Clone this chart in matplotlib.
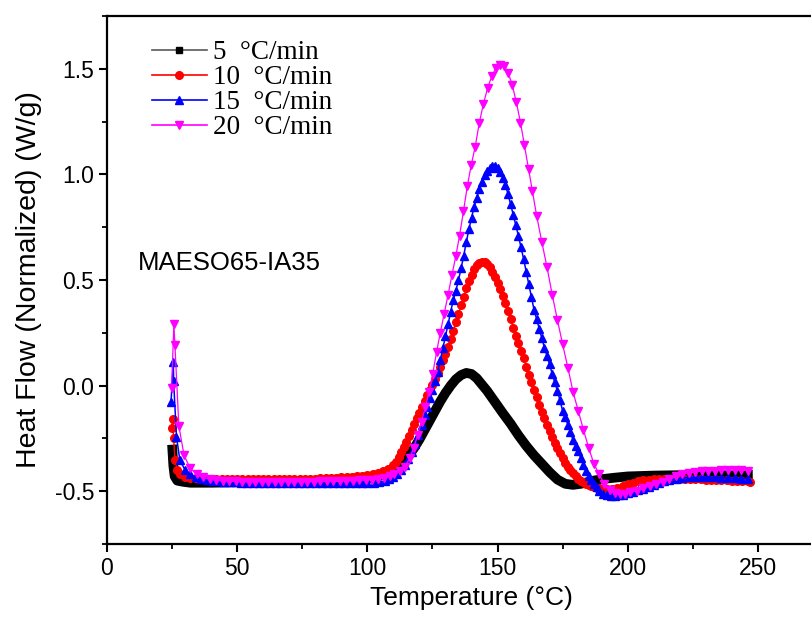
import matplotlib
matplotlib.use('Agg')
import matplotlib.pyplot as plt
from matplotlib.ticker import MultipleLocator

plt.rcParams['axes.unicode_minus'] = False

# DSC curves of MAESO65-IA35 at four heating rates
# temperature (°C) and normalized heat flow (W/g)
# (ten values per line so x and y stay paired)

T_5 = [25, 25.5, 26, 27, 29, 32, 36, 40, 50, 60,
       70, 80, 90, 95, 100, 104, 107, 110, 112, 114,
       116, 118, 120, 122, 124, 126, 128, 130, 132, 134,
       136, 138, 140, 142, 144, 146, 148, 150, 152, 155,
       158, 161, 164, 167, 170, 173, 176, 179, 182, 186,
       190, 195, 200, 210, 220, 230, 240, 248]
hf_5 = [-0.28, -0.38, -0.43, -0.45, -0.455, -0.46, -0.46, -0.46, -0.458, -0.456,
        -0.455, -0.454, -0.45, -0.447, -0.44, -0.43, -0.42, -0.4, -0.385, -0.36,
        -0.33, -0.295, -0.255, -0.21, -0.165, -0.12, -0.075, -0.035, 0.0, 0.03,
        0.05, 0.06, 0.055, 0.035, 0.005, -0.025, -0.06, -0.095, -0.13, -0.18,
        -0.235, -0.285, -0.33, -0.37, -0.41, -0.445, -0.465, -0.47, -0.465, -0.452,
        -0.443, -0.436, -0.43, -0.426, -0.424, -0.423, -0.423, -0.422]

T_10 = [24.8, 25.2, 25.6, 26.1, 27, 28, 30, 32, 34, 36,
        38, 40, 42, 44, 46, 48, 50, 52, 54, 56,
        58, 60, 62, 64, 66, 68, 70, 72, 74, 76,
        78, 80, 82, 84, 86, 88, 90, 92, 94, 96,
        98, 100, 102, 104, 106, 108, 110, 111, 112, 113,
        114, 115, 116, 117, 118, 119, 120, 121, 122, 123,
        124, 125, 126, 127, 128, 129, 130, 131, 132, 133,
        134, 135, 136, 137, 138, 139, 140, 141, 142, 143,
        144, 145, 146, 147, 148, 149, 150, 151, 152, 153,
        154, 155, 156, 157, 158, 159, 160, 161, 162, 163,
        164, 165, 166, 167, 168, 169, 170, 171, 172, 173,
        174, 175, 176, 177, 178, 179, 180, 181, 182, 183,
        184, 185, 186, 187, 188, 189, 190, 192, 194, 196,
        198, 200, 202, 204, 206, 208, 210, 212, 214, 216,
        218, 220, 222, 224, 226, 228, 230, 232, 234, 236,
        238, 240, 242, 244, 246, 247]
hf_10 = [-0.2, -0.16, -0.25, -0.35, -0.4, -0.42, -0.432, -0.436, -0.438, -0.439,
         -0.44, -0.44, -0.44, -0.44, -0.44, -0.44, -0.44, -0.44, -0.44, -0.44,
         -0.44, -0.44, -0.44, -0.44, -0.44, -0.44, -0.44, -0.44, -0.44, -0.44,
         -0.44, -0.44, -0.439, -0.438, -0.437, -0.436, -0.435, -0.434, -0.432, -0.43,
         -0.428, -0.425, -0.42, -0.414, -0.406, -0.395, -0.375, -0.36, -0.34, -0.315,
         -0.29, -0.265, -0.24, -0.21, -0.18, -0.155, -0.13, -0.1, -0.075, -0.045,
         -0.02, 0.005, 0.03, 0.06, 0.09, 0.12, 0.15, 0.185, 0.22, 0.26,
         0.3, 0.34, 0.38, 0.42, 0.46, 0.495, 0.525, 0.55, 0.57, 0.58,
         0.585, 0.585, 0.575, 0.56, 0.54, 0.515, 0.485, 0.455, 0.425, 0.39,
         0.355, 0.315, 0.275, 0.235, 0.2, 0.165, 0.13, 0.09, 0.05, 0.015,
         -0.02, -0.055, -0.09, -0.125, -0.155, -0.185, -0.215, -0.245, -0.27, -0.295,
         -0.32, -0.345, -0.365, -0.385, -0.4, -0.415, -0.428, -0.44, -0.45, -0.458,
         -0.465, -0.47, -0.475, -0.479, -0.483, -0.486, -0.488, -0.49, -0.488, -0.483,
         -0.476, -0.468, -0.46, -0.454, -0.449, -0.445, -0.443, -0.441, -0.44, -0.44,
         -0.44, -0.441, -0.442, -0.442, -0.443, -0.444, -0.445, -0.446, -0.447, -0.448,
         -0.449, -0.45, -0.451, -0.452, -0.453, -0.455]

T_15 = [24.6, 25.5, 25.6, 26.7, 28, 30, 32, 34, 36.2, 38.4,
        40.6, 42.8, 45, 47.2, 49.4, 51.6, 53.8, 56, 58.2, 60.4,
        62.6, 64.8, 67, 69.2, 71.4, 73.6, 75.8, 78, 80.2, 82.4,
        84.6, 86.8, 89, 91.2, 93.4, 95.6, 97.8, 100, 102.4, 104.6,
        106.6, 108.4, 110, 111.5, 113, 114.4, 115.7, 117, 118.3, 119.5,
        120.8, 122, 123, 124, 125, 126, 127, 128, 129, 130,
        131, 132, 133, 134, 135, 136, 137, 138, 139, 140,
        141, 142, 143, 144, 145, 146, 147, 148, 149, 150,
        151, 152, 153, 154, 155, 156, 157, 158, 159, 160,
        161, 162, 163, 164, 165, 166, 167, 168, 169, 170,
        171, 172, 173, 174, 175, 176, 177, 178, 179, 180,
        181, 182, 183, 184, 185, 186, 187, 188, 189, 190.5,
        192, 193.5, 195, 196.5, 198, 200, 202, 204, 206, 208,
        210, 212, 214, 216, 218.5, 221, 223.5, 226, 228.5, 231,
        233.5, 236, 238.5, 241, 243.5, 246]
hf_15 = [-0.076, 0.11, 0.02, -0.243, -0.353, -0.4, -0.42, -0.432, -0.44, -0.446,
         -0.45, -0.453, -0.455, -0.457, -0.458, -0.459, -0.46, -0.46, -0.46, -0.46,
         -0.46, -0.46, -0.46, -0.46, -0.46, -0.46, -0.46, -0.46, -0.46, -0.46,
         -0.46, -0.46, -0.46, -0.46, -0.46, -0.46, -0.46, -0.46, -0.459, -0.457,
         -0.452, -0.444, -0.432, -0.418, -0.4, -0.377, -0.348, -0.314, -0.275, -0.235,
         -0.188, -0.14, -0.1, -0.06, -0.02, 0.02, 0.065, 0.12, 0.177, 0.235,
         0.29, 0.35, 0.405, 0.45, 0.5, 0.555, 0.615, 0.68, 0.74, 0.795,
         0.845, 0.89, 0.93, 0.965, 0.995, 1.015, 1.03, 1.038, 1.04, 1.032,
         1.012, 0.985, 0.95, 0.908, 0.86, 0.81, 0.76, 0.71, 0.655, 0.6,
         0.54, 0.48, 0.42, 0.36, 0.315, 0.27, 0.225, 0.18, 0.14, 0.1,
         0.055, 0.015, -0.025, -0.07, -0.12, -0.15, -0.185, -0.22, -0.258, -0.285,
         -0.31, -0.345, -0.378, -0.405, -0.428, -0.448, -0.465, -0.482, -0.5, -0.512,
         -0.518, -0.521, -0.522, -0.52, -0.517, -0.51, -0.502, -0.495, -0.488, -0.479,
         -0.47, -0.461, -0.454, -0.447, -0.441, -0.437, -0.434, -0.433, -0.433, -0.433,
         -0.434, -0.436, -0.438, -0.439, -0.44, -0.441]

T_20 = [24.8, 25.7, 26.1, 27.6, 29.6, 31.9, 34.4, 36.9, 39.4, 41.9,
        44.4, 46.9, 49.4, 51.9, 54.4, 56.9, 59.4, 61.9, 64.4, 66.9,
        69.4, 71.9, 74.4, 76.9, 79.4, 81.9, 84.4, 86.9, 89.4, 91.9,
        94.4, 96.9, 99.4, 101.9, 104.2, 106.4, 108.6, 110.4, 112.4, 114.4,
        116.2, 117.8, 119.3, 120.8, 122.3, 123.7, 125.1, 126.6, 128, 129.5,
        131, 132.5, 134, 135.4, 136.9, 138.4, 139.9, 141.4, 143, 144.6,
        146.2, 147.8, 149.4, 151, 152.6, 154.1, 155.6, 157.2, 158.8, 160.3,
        161.9, 163.4, 165, 167, 169, 171, 173, 175, 177, 179,
        181, 183, 185, 187, 189, 191, 193, 195, 197, 199,
        201, 203.5, 206, 208.5, 211, 213.5, 216, 218.5, 221, 223.5,
        226, 228.5, 231, 233.5, 236, 238.5, 241, 243.5, 246]
hf_20 = [-0.01, 0.29, 0.19, -0.19, -0.33, -0.39, -0.42, -0.435, -0.443, -0.448,
         -0.451, -0.453, -0.454, -0.455, -0.455, -0.455, -0.455, -0.455, -0.455, -0.455,
         -0.455, -0.455, -0.455, -0.455, -0.455, -0.454, -0.454, -0.453, -0.452, -0.451,
         -0.45, -0.449, -0.447, -0.445, -0.442, -0.437, -0.43, -0.42, -0.403, -0.384,
         -0.345, -0.295, -0.235, -0.17, -0.1, -0.03, 0.055, 0.16, 0.25, 0.34,
         0.43, 0.525, 0.615, 0.71, 0.825, 0.945, 1.045, 1.13, 1.245, 1.335,
         1.41, 1.465, 1.505, 1.518, 1.513, 1.48, 1.425, 1.343, 1.245, 1.14,
         1.025, 0.92, 0.805, 0.68, 0.56, 0.43, 0.31, 0.195, 0.085, -0.03,
         -0.12, -0.21, -0.295, -0.37, -0.42, -0.465, -0.493, -0.508, -0.513, -0.512,
         -0.506, -0.497, -0.486, -0.476, -0.467, -0.455, -0.442, -0.43, -0.42, -0.413,
         -0.408, -0.405, -0.403, -0.402, -0.401, -0.401, -0.401, -0.401, -0.402]

labels = ['5  °C/min', '10  °C/min', '15  °C/min', '20  °C/min']
sample_name = 'MAESO65-IA35'

sans = ['Liberation Sans', 'DejaVu Sans']
serif = ['Liberation Serif', 'DejaVu Serif']

fig = plt.figure(figsize=(8.11, 6.24), dpi=100)
ax = fig.add_axes([0.1319, 0.1282, 0.899, 0.8462])

# 5 °C/min is so dense it reads as a thick band
ax.plot(T_5, hf_5, color='black', lw=7, solid_joinstyle='round',
        solid_capstyle='butt')
ax.plot(T_10, hf_10, color='red', lw=1, marker='o', ms=5.5, mec='red')
ax.plot(T_15, hf_15, color='blue', lw=1.1, marker='^', ms=5.5, mec='blue')
ax.plot(T_20, hf_20, color='magenta', lw=0.9, marker='v', ms=6, mec='magenta')

# legend proxies
h5, = ax.plot([], [], color='0.35', lw=1.2, marker='s', ms=5, mfc='black', mec='black')
h10, = ax.plot([], [], color='red', lw=1.2, marker='o', ms=5.5)
h15, = ax.plot([], [], color='blue', lw=1.2, marker='^', ms=5.5)
h20, = ax.plot([], [], color='magenta', lw=1.2, marker='v', ms=5.5)
ax.legend([h5, h10, h15, h20], labels, loc='upper left',
          bbox_to_anchor=(0.05, 0.969), frameon=False,
          prop={'family': serif, 'size': 19.5}, handlelength=2.05,
          handletextpad=0.22, labelspacing=0.0, borderaxespad=0, borderpad=0.3)

ax.text(11.9, 0.58, sample_name, fontsize=18.5, family=sans, va='center')

ax.set_xlim(0, 280)
ax.set_ylim(-0.75, 1.75)
ax.xaxis.set_major_locator(MultipleLocator(50))
ax.xaxis.set_minor_locator(MultipleLocator(25))
ax.yaxis.set_major_locator(MultipleLocator(0.5))
ax.yaxis.set_minor_locator(MultipleLocator(0.25))
ax.tick_params(which='major', direction='out', length=6, width=1.5,
               labelsize=16.5, pad=3)
ax.tick_params(which='minor', direction='out', length=3.5, width=1.3)
for lab in ax.get_xticklabels() + ax.get_yticklabels():
    lab.set_family(sans)
for sp in ax.spines.values():
    sp.set_linewidth(1.6)

ax.set_xlabel('Temperature (°C)', fontsize=19, family=sans, labelpad=5)
ax.set_ylabel('Heat Flow (Normalized) (W/g)', fontsize=20.5, family=sans, labelpad=9)

fig.savefig('out.png', dpi=100)
